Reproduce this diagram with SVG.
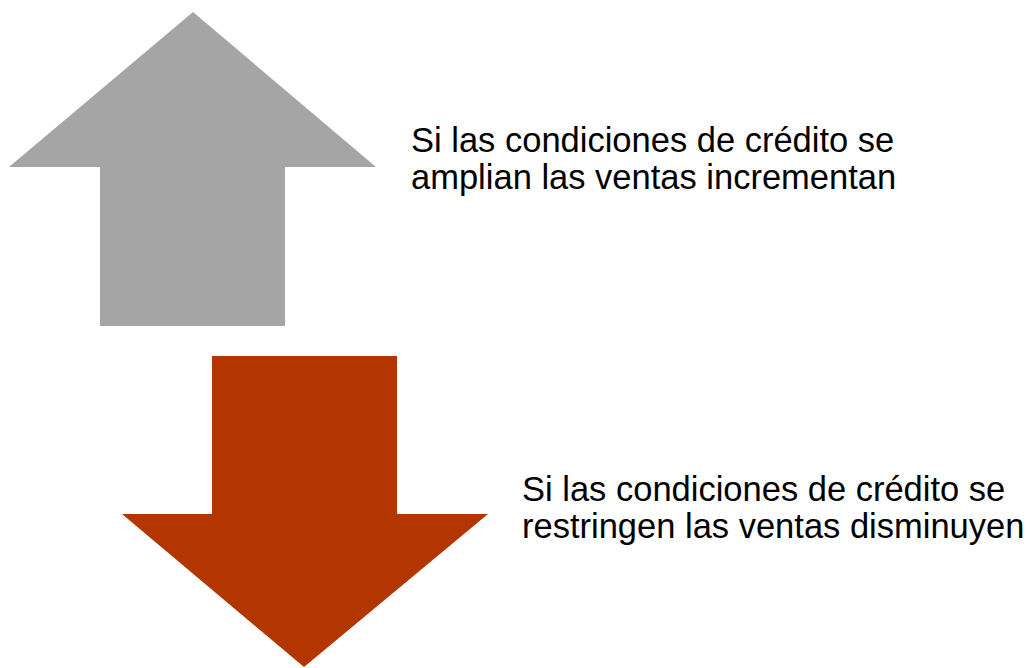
<svg xmlns="http://www.w3.org/2000/svg" width="1030" height="668" viewBox="0 0 1030 668">
<style>
.t{font-family:"Liberation Sans",Arial,sans-serif;font-size:34.5px;fill:#000}
</style>
<rect width="1030" height="668" fill="#fff"/>
<g id="up-arrow">
<polygon points="193,12 376,167 285,167 285,326 100,326 100,167 9,167" fill="#a5a5a5"/>
</g>
<g id="up-text">
<text class="t" x="411" y="152">Si las condiciones de crédito se</text>
<text class="t" x="411" y="189">amplian las ventas incrementan</text>
</g>
<g id="down-arrow">
<polygon points="212,356 397,356 397,514 488,514 304,667 122,514 212,514" fill="#b33600"/>
</g>
<g id="down-text">
<text class="t" x="522" y="501">Si las condiciones de crédito se</text>
<text class="t" x="522" y="538">restringen las ventas disminuyen</text>
</g>
<g id="connectors"/>
</svg>
